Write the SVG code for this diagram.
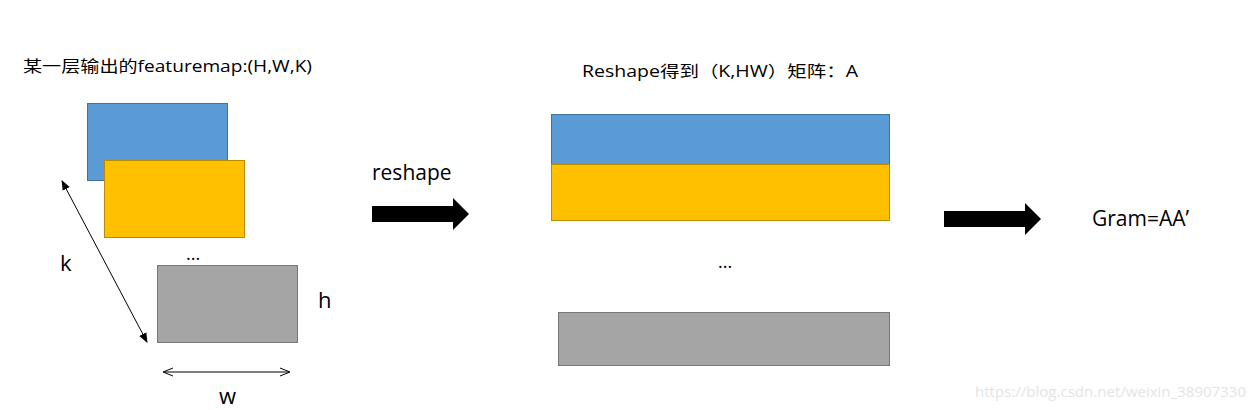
<svg xmlns="http://www.w3.org/2000/svg" width="1256" height="410" viewBox="0 0 1256 410">
<style>
text{font-family:"Open Sans","Noto Sans CJK SC",sans-serif;fill:#000}
.blue{fill:#5B9BD5;stroke:#41719C;stroke-width:1}
.yellow{fill:#FFC000;stroke:#BC8C00;stroke-width:1}
.gray{fill:#A5A5A5;stroke:#787878;stroke-width:1}
.thin{stroke:#000;stroke-width:1;fill:none}
</style>
<defs>
<marker id="fh" viewBox="0 0 10 10" refX="9" refY="5" markerWidth="10" markerHeight="10" orient="auto-start-reverse" markerUnits="userSpaceOnUse">
<path d="M0,1 L10,5 L0,9 Z" fill="#000"/>
</marker>
<marker id="oh" viewBox="0 0 10 10" refX="9" refY="5" markerWidth="10" markerHeight="10" orient="auto-start-reverse" markerUnits="userSpaceOnUse">
<path d="M0,1 L10,5 L0,9" fill="none" stroke="#000" stroke-width="1"/>
</marker>
</defs>
<rect width="1256" height="410" fill="#fff"/>
<text x="23" y="72" font-size="16" textLength="289" lengthAdjust="spacingAndGlyphs">某一层输出的featuremap:(H,W,K)</text>
<text x="582" y="77" font-size="16" textLength="276" lengthAdjust="spacingAndGlyphs">Reshape得到（K,HW）矩阵：A</text>
<g id="fmap-blue"><rect class="blue" x="87.5" y="103.5" width="140" height="77"/></g>
<g id="fmap-yellow"><rect class="yellow" x="104.5" y="160.5" width="140" height="77"/></g>
<g id="fmap-gray"><rect class="gray" x="157.5" y="265.5" width="140" height="77"/></g>
<text x="186" y="260" font-size="18">...</text>
<text x="60" y="271" font-size="22">k</text>
<text x="318" y="308" font-size="22">h</text>
<text x="219" y="404" font-size="22">w</text>
<g id="connectors">
<line class="thin" x1="62" y1="181" x2="147" y2="342" marker-start="url(#fh)" marker-end="url(#fh)"/>
<line class="thin" x1="164" y1="372" x2="289" y2="372" marker-start="url(#oh)" marker-end="url(#oh)"/>
<path d="M372,206 L453,206 L453,198 L469,214 L453,230 L453,222 L372,222 Z" fill="#000"/>
<path d="M944,211 L1025,211 L1025,203 L1041,219 L1025,235 L1025,227 L944,227 Z" fill="#000"/>
</g>
<text x="372" y="180" font-size="21">reshape</text>
<g id="mat-blue"><rect class="blue" x="551.5" y="114.5" width="338" height="50"/></g>
<g id="mat-yellow"><rect class="yellow" x="551.5" y="164.5" width="338" height="56"/></g>
<g id="mat-gray"><rect class="gray" x="558.5" y="312.5" width="331" height="53"/></g>
<text x="718" y="268" font-size="18">...</text>
<text x="1092" y="226" font-size="21">Gram=AA’</text>
<text x="975" y="397" font-size="14" style="fill:#e4e4e4" textLength="271" lengthAdjust="spacingAndGlyphs">https://blog.csdn.net/weixin_38907330</text>
</svg>
